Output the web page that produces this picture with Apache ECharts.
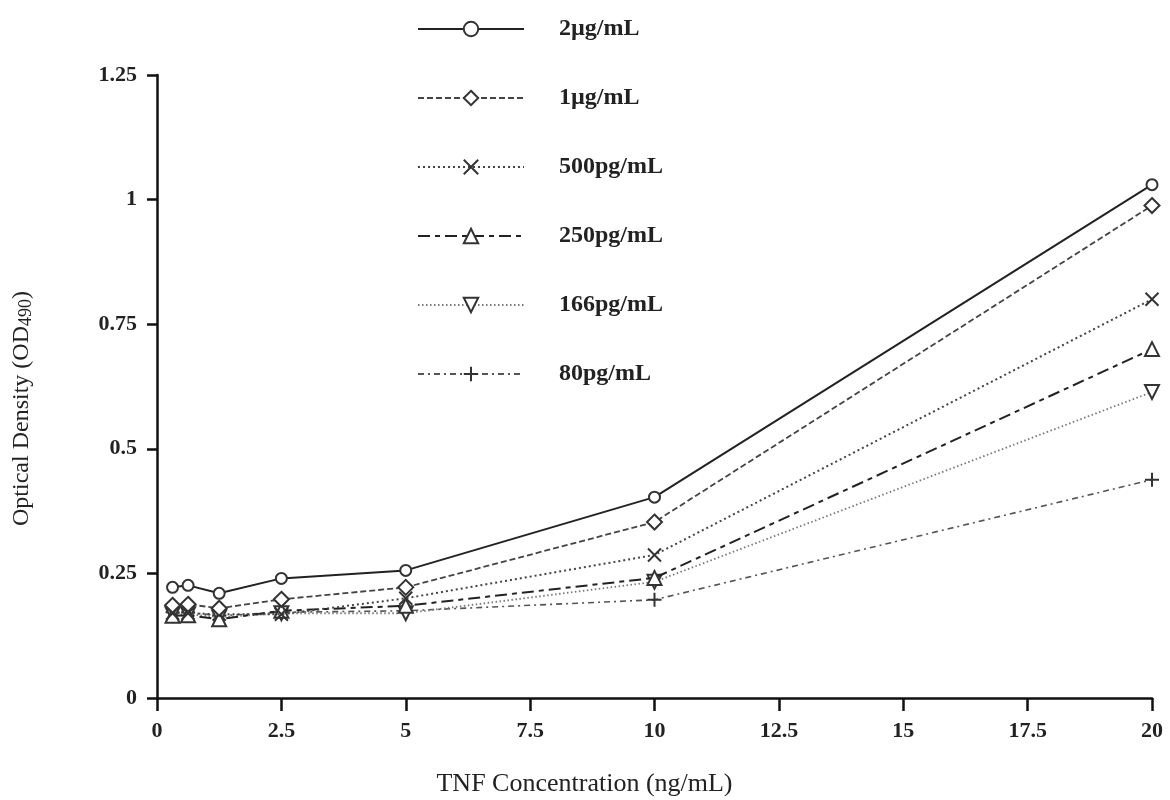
<!DOCTYPE html>
<html>
<head>
<meta charset="utf-8">
<script src="https://cdn.jsdelivr.net/npm/echarts@6/dist/echarts.min.js"></script>
<style>
  html, body { margin: 0; padding: 0; background: #fff; }
  #chart { width: 1170px; height: 800px; }
</style>
</head>
<body>
<div id="chart"></div>
<script>
// TNF concentration (ng/mL) of the standards
const concentrations = [0.3125, 0.625, 1.25, 2.5, 5, 10, 20];

// optical density readings, one list per antibody concentration
const od2ug = [0.222, 0.226, 0.210, 0.240, 0.256, 0.403, 1.030];
const od1ug = [0.186, 0.188, 0.180, 0.198, 0.222, 0.353, 0.988];
const od500pg = [0.170, 0.170, 0.168, 0.168, 0.200, 0.287, 0.800];
const od250pg = [0.165, 0.166, 0.158, 0.175, 0.185, 0.241, 0.700];
const od166pg = [0.168, 0.168, 0.162, 0.170, 0.170, 0.233, 0.614];
const od80pg = [0.172, 0.172, 0.165, 0.172, 0.175, 0.197, 0.438];

const seriesNames = ['2\u00b5g/mL', '1\u00b5g/mL', '500pg/mL', '250pg/mL', '166pg/mL', '80pg/mL'];
const xTicks = [0, 2.5, 5, 7.5, 10, 12.5, 15, 17.5, 20];
const yTicks = [0, 0.25, 0.5, 0.75, 1, 1.25];

const serif = '"Liberation Serif", "DejaVu Serif", serif';

const crossPath = 'path://M0,0 L10,10 M10,0 L0,10';
const plusPath = 'path://M5,0 L5,10 M0,5 L10,5';
const downTriPath = 'path://M0,0 L10,0 L5,9 Z';

// marker + line look for each series
const looks = [
  { data: od2ug, symbol: 'circle', size: 11, color: '#222', dash: 'solid', width: 2 },
  { data: od1ug, symbol: 'diamond', size: 15, color: '#444', dash: [6, 3], width: 1.8 },
  { data: od500pg, symbol: crossPath, size: 13, color: '#444', dash: [2, 3], width: 2 },
  { data: od250pg, symbol: 'triangle', size: 14, color: '#222', dash: [12, 5, 5, 5], width: 2 },
  { data: od166pg, symbol: downTriPath, size: 14, color: '#777', dash: [1.5, 2.5], width: 1.8 },
  { data: od80pg, symbol: plusPath, size: 14, color: '#555', dash: [6, 4, 2, 4], width: 1.6 }
];

const series = looks.map((l, i) => ({
  name: seriesNames[i],
  type: 'line',
  data: concentrations.map((c, j) => [c, l.data[j]]),
  symbol: l.symbol,
  symbolSize: l.size,
  z: 10 - i,
  itemStyle: { color: '#fff', borderColor: '#333', borderWidth: 2 },
  lineStyle: { color: l.color, width: l.width, type: l.dash },
  emphasis: { disabled: true }
}));

const chart = echarts.init(document.getElementById('chart'));
chart.setOption({
  backgroundColor: '#fff',
  animation: false,
  legend: {
    orient: 'vertical',
    left: 412,
    top: 12,
    itemWidth: 106,
    itemHeight: 18,
    itemGap: 45,
    data: seriesNames,
    textStyle: {
      fontFamily: serif,
      fontSize: 24,
      lineHeight: 18,
      verticalAlign: 'top',
      fontWeight: 'bold',
      color: '#222',
      padding: [0, 0, 0, 30]
    }
  },
  grid: { left: 157, right: 18, top: 75, bottom: 102, containLabel: false, outerBoundsMode: 'none' },
  xAxis: {
    type: 'value',
    min: xTicks[0],
    max: xTicks[xTicks.length - 1],
    interval: xTicks[1] - xTicks[0],
    name: 'TNF Concentration (ng/mL)',
    nameLocation: 'middle',
    nameGap: 73,
    nameTextStyle: { fontFamily: serif, fontSize: 26, color: '#222', padding: [0, 140, 0, 0] },
    axisLine: { lineStyle: { color: '#111', width: 2.5 } },
    axisTick: { inside: false, length: 13, lineStyle: { color: '#111', width: 2.5 } },
    axisLabel: { margin: 22, fontFamily: serif, fontSize: 22, fontWeight: 'bold', color: '#222' },
    splitLine: { show: false }
  },
  yAxis: {
    type: 'value',
    min: yTicks[0],
    max: yTicks[yTicks.length - 1],
    interval: yTicks[1] - yTicks[0],
    name: 'Optical Density (OD{sub|490})',
    nameLocation: 'middle',
    nameGap: 122,
    nameRotate: 90,
    nameTextStyle: {
      fontFamily: serif, fontSize: 24, color: '#222', padding: [0, 44, 0, 0],
      rich: { sub: { fontFamily: serif, fontSize: 18, color: '#222', verticalAlign: 'bottom', padding: [8, 0, 0, 0] } }
    },
    axisLine: { show: true, lineStyle: { color: '#111', width: 2.5 } },
    axisTick: { show: true, length: 10, lineStyle: { color: '#111', width: 2.5 } },
    axisLabel: { margin: 20, fontFamily: serif, fontSize: 22, fontWeight: 'bold', color: '#222' },
    splitLine: { show: false }
  },
  series: series
});
</script>
</body>
</html>
